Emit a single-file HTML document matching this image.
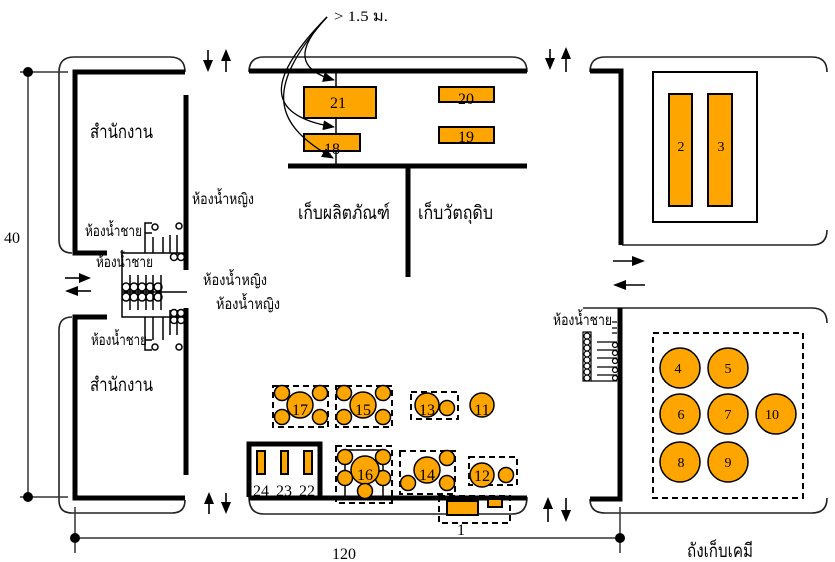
<!DOCTYPE html>
<html><head><meta charset="utf-8"><style>
html,body{margin:0;padding:0;background:#fff;}
svg{display:block;}
.th{font-family:"Liberation Serif","DejaVu Sans","Noto Sans CJK SC",serif;fill:#000;}
.n{font-family:"Liberation Serif",serif;fill:#000;text-anchor:middle;}
</style></head><body>
<svg width="835" height="562" viewBox="0 0 835 562" xmlns="http://www.w3.org/2000/svg">
<defs>
<marker id="ah" markerWidth="12" markerHeight="10" refX="11" refY="5" orient="auto" markerUnits="userSpaceOnUse">
<path d="M0,0 L12,5 L0,10 Z" fill="#000"/>
</marker>
</defs>

<!-- thin outlines -->
<g fill="none" stroke="#222" stroke-width="1.6">
<path d="M185,72 Q185,57 170,57 L74,57 Q59,57 59,72 L59,240 Q59,253 72,253"/>
<path d="M72,317 Q59,317 59,330 L59,500 Q59,513 72,513 L172,513 Q185,513 185,500"/>
<path d="M249,72 Q249,57 264,57 L512,57 Q527,57 527,72"/>
<path d="M249,497 Q249,514 264,514 L512,514 Q527,514 527,497"/>
<path d="M590,72 Q590,57 605,57 L812,57 Q827,57 827,72"/>
<path d="M622,245 L812,245 Q827,245 827,230"/>
<path d="M583,308 L812,308 Q827,308 827,323"/>
<path d="M590,499 Q590,513 605,513 L812,513 Q827,513 827,498"/>
</g>

<!-- dimension lines -->
<g stroke="#333" stroke-width="1.5" fill="none">
<line x1="28" y1="72" x2="28" y2="497"/>
<line x1="20" y1="72" x2="68" y2="72"/>
<line x1="20" y1="497" x2="68" y2="497"/>
<line x1="75" y1="538" x2="620" y2="538"/>
<line x1="75" y1="507" x2="75" y2="553"/>
<line x1="620" y1="507" x2="620" y2="553"/>
</g>
<g fill="#000">
<circle cx="28" cy="72" r="5"/><circle cx="28" cy="497" r="5"/>
<circle cx="75" cy="538" r="5"/><circle cx="620" cy="538" r="5"/>
</g>

<!-- thick walls -->
<g fill="none" stroke="#000" stroke-width="5">
<path d="M185,72 L75,72 L75,253 L107,253"/>
<line x1="186" y1="95" x2="186" y2="270"/>
<line x1="186" y1="308" x2="186" y2="475"/>
<path d="M107,317 L75,317 L75,498 L185,498"/>
<line x1="249" y1="71" x2="527" y2="71"/>
<line x1="288" y1="166" x2="527" y2="166"/>
<line x1="408" y1="166" x2="408" y2="277"/>
<line x1="249" y1="498" x2="527" y2="498"/>
<path d="M590,71 L621,71 L621,245"/>
<path d="M620,308 L620,499 L590,499"/>
<path d="M249,497 L249,444 L320,444 L320,497"/>
</g>
<line x1="336" y1="73" x2="336" y2="166" stroke="#000" stroke-width="1.5"/>

<!-- left restroom fixtures -->
<g fill="none" stroke="#000" stroke-width="1.5">
<path d="M122,250 L122,317 L184,317"/>
<line x1="122" y1="253" x2="184" y2="253"/>
<line x1="122" y1="292" x2="187" y2="292"/>
<line x1="130" y1="275" x2="130" y2="310"/>
<line x1="138" y1="275" x2="138" y2="310"/>
<line x1="146" y1="275" x2="146" y2="310"/>
<line x1="153" y1="275" x2="153" y2="310"/>
<line x1="161" y1="275" x2="161" y2="310"/>
<circle cx="126" cy="287" r="4"/><circle cx="134" cy="287" r="4"/><circle cx="142" cy="287" r="4"/><circle cx="150" cy="287" r="4"/><circle cx="158" cy="287" r="4"/>
<circle cx="126" cy="297" r="4"/><circle cx="134" cy="297" r="4"/><circle cx="142" cy="297" r="4"/><circle cx="150" cy="297" r="4"/><circle cx="158" cy="297" r="4"/>
<path d="M152,223 L145,223 L145,253"/>
<path d="M145,233 L152,233"/>
<circle cx="155" cy="227" r="3"/>
<line x1="153" y1="237" x2="153" y2="253"/>
<line x1="163" y1="237" x2="163" y2="253"/>
<line x1="170" y1="235" x2="170" y2="253"/>
<line x1="177" y1="235" x2="177" y2="253"/>
<circle cx="179" cy="226" r="3"/>
<circle cx="174" cy="257" r="3.5"/><circle cx="181" cy="257" r="3.5"/>
<path d="M152,350 L145,350 L145,317"/>
<path d="M145,340 L152,340"/>
<circle cx="155" cy="347" r="3"/>
<line x1="153" y1="317" x2="153" y2="340"/>
<line x1="163" y1="317" x2="163" y2="340"/>
<line x1="170" y1="310" x2="170" y2="335"/>
<line x1="177" y1="310" x2="177" y2="335"/>
<circle cx="179" cy="347" r="3"/>
<circle cx="174" cy="313" r="3.5"/><circle cx="181" cy="313" r="3.5"/>
<circle cx="174" cy="320" r="3.5"/><circle cx="181" cy="320" r="3.5"/>
</g>

<!-- right restroom fixture -->
<g fill="none" stroke="#000" stroke-width="1.2">
<rect x="583" y="332" width="8" height="49"/>
<line x1="591" y1="381" x2="617" y2="381"/>
<circle cx="587" cy="336" r="3"/><circle cx="587" cy="342" r="3"/><circle cx="587" cy="348" r="3"/><circle cx="587" cy="354" r="3"/><circle cx="587" cy="360" r="3"/><circle cx="587" cy="366" r="3"/><circle cx="587" cy="372" r="3"/><circle cx="587" cy="378" r="3"/>
<line x1="597" y1="342" x2="617" y2="342"/><line x1="597" y1="350" x2="617" y2="350"/><line x1="597" y1="358" x2="617" y2="358"/><line x1="597" y1="367" x2="617" y2="367"/><line x1="597" y1="375" x2="617" y2="375"/>
<circle cx="615" cy="345" r="2.5"/><circle cx="615" cy="353" r="2.5"/><circle cx="615" cy="361" r="2.5"/><circle cx="615" cy="370" r="2.5"/><circle cx="615" cy="378" r="2.5"/>
<path d="M612,322 L617,322 M612,328 L617,328 M612,333 L617,333"/>
</g>

<!-- orange boxes -->
<g fill="#FFA500" stroke="#000" stroke-width="2">
<rect x="304" y="87" width="72" height="31"/>
<rect x="304" y="134" width="56" height="17"/>
<rect x="439" y="87" width="55" height="15"/>
<rect x="439" y="127" width="55" height="16"/>
<rect x="669" y="94" width="23" height="112"/>
<rect x="708" y="94" width="24" height="112"/>
<rect x="257" y="451" width="8" height="23"/>
<rect x="281" y="451" width="7" height="23"/>
<rect x="304" y="451" width="8" height="23"/>
<rect x="447" y="501" width="31" height="14"/>
<rect x="488" y="499" width="14" height="8"/>
</g>
<rect x="653" y="72" width="104" height="150" fill="none" stroke="#000" stroke-width="2"/>

<!-- dashed groups -->
<g fill="none" stroke="#000" stroke-width="2" stroke-dasharray="6,4">
<rect x="273" y="386" width="55" height="41"/>
<rect x="336" y="386" width="56" height="41"/>
<rect x="411" y="392" width="47" height="27"/>
<rect x="336" y="446" width="56" height="57"/>
<rect x="400" y="451" width="55" height="43"/>
<rect x="469" y="457" width="48" height="28"/>
<rect x="439" y="496" width="71" height="27"/>
<rect x="653" y="333" width="150" height="165"/>
</g>

<g stroke="#000" stroke-width="1.5">
<line x1="345" y1="450" x2="383" y2="450"/>
<line x1="345" y1="457" x2="345" y2="497"/>
<line x1="383" y1="457" x2="383" y2="497"/>
</g>

<!-- circles -->
<g fill="#FFA500" stroke="#000" stroke-width="1.5">
<circle cx="282" cy="393" r="7.5"/><circle cx="320" cy="393" r="7.5"/><circle cx="282" cy="417" r="7.5"/><circle cx="320" cy="417" r="7.5"/><circle cx="300" cy="405" r="13"/>
<circle cx="344" cy="393" r="7.5"/><circle cx="383" cy="393" r="7.5"/><circle cx="344" cy="417" r="7.5"/><circle cx="383" cy="417" r="7.5"/><circle cx="363" cy="405" r="13"/>
<circle cx="427" cy="405" r="12"/><circle cx="447" cy="408" r="7.5"/>
<circle cx="482" cy="405" r="12"/>
<circle cx="345" cy="457" r="7.5"/><circle cx="383" cy="457" r="7.5"/><circle cx="345" cy="478" r="7.5"/><circle cx="383" cy="478" r="7.5"/><circle cx="365" cy="470" r="14"/><circle cx="365" cy="491" r="7.5"/>
<circle cx="427" cy="470" r="13"/><circle cx="447" cy="458" r="7.5"/><circle cx="447" cy="483" r="7.5"/><circle cx="408" cy="483" r="7.5"/>
<circle cx="482" cy="475" r="12"/><circle cx="506" cy="475" r="7.5"/>
<circle cx="680" cy="368" r="20"/><circle cx="728" cy="368" r="20"/>
<circle cx="680" cy="414" r="20"/><circle cx="728" cy="414" r="20"/><circle cx="776" cy="414" r="20"/>
<circle cx="680" cy="462" r="20"/><circle cx="728" cy="462" r="20"/>
</g>

<!-- curves -->
<g fill="none" stroke="#000" stroke-width="1.3" marker-end="url(#ah)">
<path d="M327,17 C295,50 298,70 334,80"/>
<path d="M327,17 C270,75 260,115 334,127"/>
<path d="M327,17 C262,90 275,125 333,158"/>
</g>

<!-- arrows -->
<g stroke="#000" stroke-width="1.6" fill="none">
<line x1="208" y1="50" x2="208" y2="62"/><line x1="226" y1="60" x2="226" y2="72"/>
<line x1="550" y1="49" x2="550" y2="60"/><line x1="566" y1="58" x2="566" y2="72"/>
<line x1="209" y1="503" x2="209" y2="514"/><line x1="226" y1="493" x2="226" y2="503"/>
<line x1="548" y1="508" x2="548" y2="522"/><line x1="566" y1="498" x2="566" y2="512"/>
<line x1="613" y1="261" x2="635" y2="261"/><line x1="625" y1="285" x2="645" y2="285"/>
<line x1="65" y1="278" x2="81" y2="278"/><line x1="76" y1="291" x2="91" y2="291"/>
</g>
<g fill="#000">
<path d="M203,60 L213,60 L208,72 Z"/><path d="M221,61 L231,61 L226,49 Z"/>
<path d="M545,58 L555,58 L550,70 Z"/><path d="M561,59 L571,59 L566,47 Z"/>
<path d="M204,504 L214,504 L209,492 Z"/><path d="M221,502 L231,502 L226,514 Z"/>
<path d="M543,509 L553,509 L548,497 Z"/><path d="M561,510 L571,510 L566,522 Z"/>
<path d="M632,256 L632,266 L645,261 Z"/><path d="M613,285 L626,280 L626,290 Z"/>
<path d="M79,273 L79,283 L91,278 Z"/><path d="M65,291 L78,286 L78,296 Z"/>
</g>

<!-- Thai labels -->
<g class="th">
<text x="90" y="138" font-size="19" textLength="63" lengthAdjust="spacingAndGlyphs">สำนักงาน</text>
<text x="90" y="391" font-size="19" textLength="63" lengthAdjust="spacingAndGlyphs">สำนักงาน</text>
<text x="192" y="204" font-size="15" textLength="62" lengthAdjust="spacingAndGlyphs">ห้องน้ำหญิง</text>
<text x="85" y="236" font-size="15" textLength="57" lengthAdjust="spacingAndGlyphs">ห้องน้ำชาย</text>
<text x="96" y="267" font-size="15" textLength="57" lengthAdjust="spacingAndGlyphs">ห้องน้ำชาย</text>
<text x="203" y="285" font-size="15" textLength="64" lengthAdjust="spacingAndGlyphs">ห้องน้ำหญิง</text>
<text x="216" y="309" font-size="15" textLength="64" lengthAdjust="spacingAndGlyphs">ห้องน้ำหญิง</text>
<text x="91" y="345" font-size="15" textLength="56" lengthAdjust="spacingAndGlyphs">ห้องน้ำชาย</text>
<text x="553" y="325" font-size="15" textLength="59" lengthAdjust="spacingAndGlyphs">ห้องน้ำชาย</text>
<text x="298" y="219" font-size="19" textLength="92" lengthAdjust="spacingAndGlyphs">เก็บผลิตภัณฑ์</text>
<text x="418" y="219" font-size="19" textLength="75" lengthAdjust="spacingAndGlyphs">เก็บวัตถุดิบ</text>
<text x="687" y="557" font-size="19" textLength="66" lengthAdjust="spacingAndGlyphs">ถังเก็บเคมี</text>
<text x="334" y="21" font-size="15" textLength="54" lengthAdjust="spacingAndGlyphs">&gt; 1.5 ม.</text>
</g>

<!-- numbers -->
<g class="n" font-size="16">
<text x="338" y="108">21</text>
<text x="332" y="154">18</text>
<text x="466" y="104">20</text>
<text x="466" y="142">19</text>
<text x="300" y="415">17</text>
<text x="363" y="415">15</text>
<text x="427" y="415">13</text>
<text x="482" y="415">11</text>
<text x="365" y="480">16</text>
<text x="427" y="480">14</text>
<text x="482" y="481">12</text>
<text x="261" y="496">24</text>
<text x="284" y="496">23</text>
<text x="307" y="496">22</text>
<text x="461" y="535">1</text>
<text x="12" y="243">40</text>
<text x="344" y="559">120</text>
</g>
<g class="n" font-size="14">
<text x="681" y="151">2</text>
<text x="721" y="151">3</text>
<text x="678" y="373">4</text>
<text x="728" y="373">5</text>
<text x="681" y="419">6</text>
<text x="728" y="419">7</text>
<text x="772" y="419">10</text>
<text x="681" y="467">8</text>
<text x="728" y="467">9</text>
</g>
</svg>
</body></html>
